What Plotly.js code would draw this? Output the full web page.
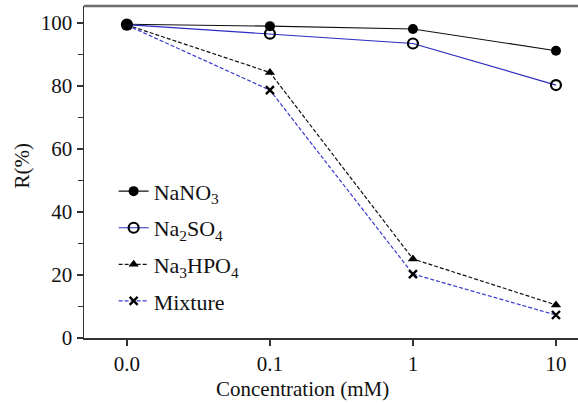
<!DOCTYPE html>
<html>
<head>
<meta charset="utf-8">
<script src="https://cdn.plot.ly/plotly-3.0.1.min.js"></script>
<style>html,body{margin:0;padding:0;background:#fff;}#chart{width:578px;height:403px;}</style>
</head>
<body>
<div id="chart"></div>
<script>
const categories = ["0.0", "0.1", "1", "10"];
const seriesNames = ["NaNO<sub>3</sub>", "Na<sub>2</sub>SO<sub>4</sub>", "Na<sub>3</sub>HPO<sub>4</sub>", "Mixture"];
const nano3 = [99.6, 99.0, 98.1, 91.2];
const na2so4 = [99.5, 96.6, 93.5, 80.3];
const na3hpo4 = [99.4, 84.3, 25.1, 10.5];
const mixture = [99.3, 78.7, 20.3, 7.3];
const yTickVals = [0, 20, 40, 60, 80, 100];
const xTitle = "Concentration (mM)";
const yTitle = "R(%)";

const xIdx = categories.map((c, i) => i);
const font = {family: "'Liberation Serif', 'Times New Roman', serif", color: "#111"};

function tr(name, y, lineColor, dash, marker, grp) {
  return {
    type: "scatter", mode: "lines+markers", name: name, x: xIdx, y: y,
    line: {color: lineColor, width: 1.2, dash: dash},
    marker: marker, legendgroup: grp, cliponaxis: false
  };
}

const data = [
  tr(seriesNames[0], nano3, "#111", "solid", {symbol: "circle", size: 10, color: "#000"}, "a"),
  tr(seriesNames[1], na2so4, "#2b2bc0", "solid", {symbol: "circle-open", size: 10, color: "#000", line: {width: 2.2, color: "#000"}}, "b"),
  tr(seriesNames[2], na3hpo4, "#111", "4px,2px", {symbol: "triangle-up", size: 9, color: "#000"}, "c"),
  tr(seriesNames[3], mixture, "#3a3ad0", "4px,2px", {symbol: "x-thin", size: 8, color: "#000", line: {width: 2.4, color: "#000"}}, "d")
];

const layout = {
  width: 578, height: 403,
  margin: {l: 84, r: 0, t: 6, b: 65},
  paper_bgcolor: "#fff", plot_bgcolor: "#fff",
  font: Object.assign({size: 20}, font),
  showlegend: true,
  legend: {x: 0.06, y: 0.505, xanchor: "left", yanchor: "top", font: Object.assign({size: 22}, font),
           bgcolor: "rgba(0,0,0,0)", traceorder: "grouped", tracegroupgap: 5, itemwidth: 30},
  xaxis: {
    range: [-0.3, 3.154], tickmode: "array", tickvals: xIdx, ticktext: categories,
    showgrid: false, zeroline: false, showline: true, linecolor: "#333", linewidth: 1.5,
    ticks: "outside", ticklen: 6, tickcolor: "#333", tickwidth: 1.5,
    tickfont: Object.assign({size: 21}, font)
  },
  yaxis: {
    range: [0, 105.4], tickmode: "array", tickvals: yTickVals,
    showgrid: false, zeroline: false, showline: true, linecolor: "#333", linewidth: 1.5,
    ticks: "outside", ticklen: 6, tickcolor: "#333", tickwidth: 1.5,
    minor: {dtick: 10, tick0: 0, ticks: "outside", ticklen: 5, tickcolor: "#333", tickwidth: 1.5, showgrid: false},
    tickfont: Object.assign({size: 21}, font)
  },
  annotations: [
    {text: xTitle, xref: "paper", yref: "paper", x: 0.443, y: -0.153, xanchor: "center", yanchor: "middle",
     showarrow: false, font: Object.assign({size: 21}, font)},
    {text: yTitle, xref: "paper", yref: "paper", x: -0.125, y: 0.52, xanchor: "center", yanchor: "middle",
     textangle: -90, showarrow: false, font: Object.assign({size: 21}, font)}
  ],
  shapes: [
    {type: "line", xref: "paper", yref: "paper", x0: 0, x1: 1, y0: 1, y1: 1, line: {color: "#6e6e6e", width: 2.5}}
  ]
};

Plotly.newPlot("chart", data, layout, {displayModeBar: false, staticPlot: true});
</script>
</body>
</html>
